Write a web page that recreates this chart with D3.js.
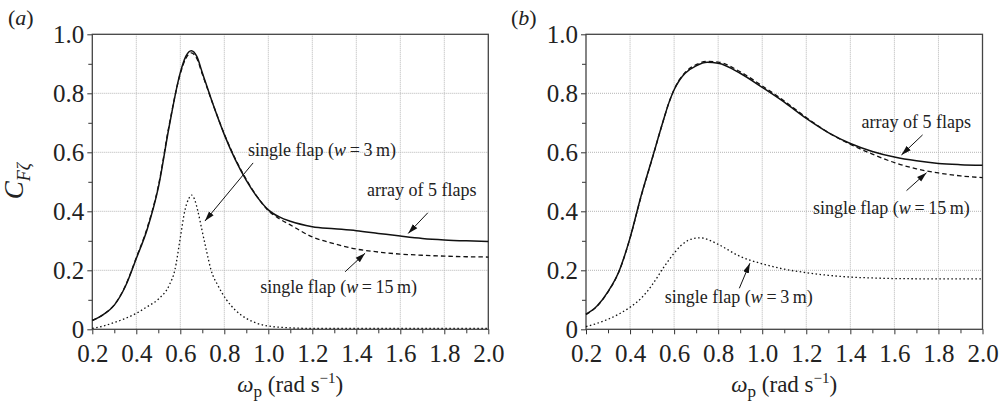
<!DOCTYPE html>
<html>
<head>
<meta charset="utf-8">
<script src="https://cdn.jsdelivr.net/npm/d3@7"></script>
<style>
  body { margin: 0; background: #fff; }
  text { font-family: "Liberation Serif", "Times New Roman", serif; fill: #222; }
</style>
</head>
<body>
<div id="chart"></div>
<script>
// ---- data ----
// panel (a)
const omegaA = [0.2, 0.25, 0.3, 0.35, 0.4, 0.45, 0.5, 0.55, 0.6, 0.625, 0.65, 0.675, 0.7, 0.75, 0.8, 0.85, 0.9, 0.95, 1.0, 1.05, 1.1, 1.2, 1.3, 1.4, 1.5, 1.6, 1.7, 1.8, 1.9, 2.0];
const arrayA = [0.03, 0.05, 0.082, 0.145, 0.24, 0.34, 0.48, 0.69, 0.87, 0.925, 0.944, 0.925, 0.87, 0.76, 0.66, 0.575, 0.505, 0.448, 0.405, 0.381, 0.366, 0.348, 0.341, 0.334, 0.325, 0.316, 0.308, 0.303, 0.3, 0.298];
const wide15A = [0.03, 0.05, 0.083, 0.147, 0.243, 0.345, 0.485, 0.695, 0.866, 0.918, 0.937, 0.918, 0.865, 0.76, 0.662, 0.578, 0.508, 0.449, 0.402, 0.375, 0.354, 0.313, 0.29, 0.272, 0.262, 0.255, 0.251, 0.248, 0.246, 0.245];
const omegaA3 = [0.2, 0.25, 0.3, 0.35, 0.4, 0.45, 0.5, 0.55, 0.575, 0.6, 0.62, 0.64, 0.652, 0.665, 0.68, 0.7, 0.72, 0.74, 0.77, 0.81, 0.85, 0.9, 0.95, 1.0, 1.1, 1.2, 1.5, 2.0];
const narrow3A = [0.003, 0.011, 0.023, 0.037, 0.054, 0.077, 0.102, 0.15, 0.2, 0.31, 0.4, 0.445, 0.455, 0.44, 0.4, 0.331, 0.263, 0.2, 0.15, 0.1, 0.065, 0.037, 0.02, 0.011, 0.005, 0.003, 0.003, 0.003];

// panel (b)
const omegaB = [0.2, 0.25, 0.3, 0.35, 0.4, 0.45, 0.5, 0.55, 0.575, 0.6, 0.625, 0.65, 0.7, 0.75, 0.8, 0.9, 1.0, 1.1, 1.2, 1.3, 1.4, 1.5, 1.6, 1.7, 1.8, 1.9, 2.0];
const arrayB = [0.051, 0.079, 0.128, 0.197, 0.31, 0.452, 0.578, 0.705, 0.765, 0.812, 0.845, 0.868, 0.893, 0.905, 0.902, 0.868, 0.82, 0.77, 0.715, 0.667, 0.63, 0.603, 0.584, 0.571, 0.562, 0.558, 0.556];
const wide15B = [0.05, 0.078, 0.127, 0.196, 0.309, 0.45, 0.577, 0.705, 0.765, 0.813, 0.847, 0.871, 0.897, 0.908, 0.906, 0.873, 0.825, 0.774, 0.718, 0.667, 0.627, 0.594, 0.565, 0.544, 0.53, 0.52, 0.514];
const omegaB3 = [0.2, 0.25, 0.3, 0.35, 0.4, 0.45, 0.5, 0.55, 0.6, 0.63, 0.66, 0.7, 0.72, 0.76, 0.8, 0.9, 1.0, 1.1, 1.2, 1.3, 1.4, 1.5, 1.6, 1.8, 2.0];
const narrow3B = [0.009, 0.02, 0.034, 0.052, 0.075, 0.105, 0.15, 0.207, 0.258, 0.283, 0.3, 0.309, 0.31, 0.302, 0.288, 0.247, 0.222, 0.204, 0.192, 0.183, 0.177, 0.174, 0.172, 0.171, 0.171];

const xTicks = [0.2, 0.4, 0.6, 0.8, 1.0, 1.2, 1.4, 1.6, 1.8, 2.0];
const xMinor = d3.range(3, 20, 2).map(d => d / 10);
const yTicks = [0, 0.2, 0.4, 0.6, 0.8, 1.0];
const yMinor = [0.1, 0.3, 0.5, 0.7, 0.9];

const width = 1003, height = 405;
const svg = d3.select('#chart').append('svg')
  .attr('width', width)
  .attr('height', height);

// arrow head
svg.append('defs').append('marker')
  .attr('id', 'arrow')
  .attr('markerUnits', 'userSpaceOnUse')
  .attr('markerWidth', 10).attr('markerHeight', 8)
  .attr('refX', 10).attr('refY', 4)
  .attr('orient', 'auto')
  .append('path')
  .attr('d', 'M0,1 L10,4 L0,7 Z')
  .attr('fill', '#111');

const fmt = d => d === 0 ? '0' : d.toFixed(1);

function drawPanel(p) {
  const x = d3.scaleLinear().domain([0.2, 2.0]).range(p.xr);
  const y = d3.scaleLinear().domain([0, 1]).range([329.3, 34.3]);
  const g = svg.append('g');

  // grid
  g.append('g').selectAll('line.gx')
    .data(xTicks.slice(1, -1)).enter().append('line')
    .attr('x1', d => x(d)).attr('x2', d => x(d))
    .attr('y1', y(0)).attr('y2', y(1))
    .attr('stroke', '#b5b5b5').attr('stroke-dasharray', '1,1');
  g.append('g').selectAll('line.gy')
    .data(yTicks.slice(1, -1)).enter().append('line')
    .attr('x1', x(0.2)).attr('x2', x(2.0))
    .attr('y1', d => y(d)).attr('y2', d => y(d))
    .attr('stroke', '#b5b5b5').attr('stroke-dasharray', '1,1');

  // axes
  const axB = g.append('g').attr('transform', `translate(0,${y(0)})`)
    .call(d3.axisBottom(x).tickValues(xTicks).tickSize(5).tickFormat(fmt));
  g.append('g').attr('transform', `translate(0,${y(0)})`)
    .call(d3.axisBottom(x).tickValues(xMinor).tickSize(4).tickFormat(''));
  const axL = g.append('g').attr('transform', `translate(${x(0.2)},0)`)
    .call(d3.axisLeft(y).tickValues(yTicks).tickSize(5).tickFormat(fmt));
  g.append('g').attr('transform', `translate(${x(0.2)},0)`)
    .call(d3.axisLeft(y).tickValues(yMinor).tickSize(4).tickFormat(''));
  g.selectAll('.domain').remove();
  g.selectAll('.tick line').attr('stroke', '#333');
  axB.selectAll('text')
    .attr('y', 33).attr('dy', null)
    .attr('font-size', 25).attr('fill', '#222');
  axL.selectAll('text')
    .attr('x', -8).attr('dy', '0.34em')
    .attr('font-size', 25).attr('fill', '#222');

  // frame
  g.append('rect')
    .attr('x', x(0.2)).attr('y', y(1))
    .attr('width', x(2.0) - x(0.2)).attr('height', y(0) - y(1))
    .attr('fill', 'none').attr('stroke', '#444').attr('stroke-width', 1.3);

  // curves
  const line = d3.line().x(d => x(d[0])).y(d => y(d[1])).curve(d3.curveMonotoneX);
  p.series.forEach(s => {
    g.append('path')
      .datum(d3.zip(s.xs, s.ys))
      .attr('d', line)
      .attr('fill', 'none')
      .attr('stroke', '#111')
      .attr('stroke-width', s.w)
      .attr('stroke-dasharray', s.dash);
  });

  // annotations
  p.notes.forEach(n => {
    const t = g.append('text')
      .attr('x', x(n.tx)).attr('y', y(n.ty))
      .attr('font-size', 18);
    if (n.w) {
      t.append('tspan').text(n.label + ' (');
      t.append('tspan').attr('font-style', 'italic').text('w');
      t.append('tspan').text('\u2009=\u2009' + n.w + '\u2009m)');
    } else {
      t.text(n.label);
    }
    g.append('line')
      .attr('x1', x(n.a[0])).attr('y1', y(n.a[1]))
      .attr('x2', x(n.a[2])).attr('y2', y(n.a[3]))
      .attr('stroke', '#111').attr('stroke-width', 1)
      .attr('marker-end', 'url(#arrow)');
  });

  // x title
  const xt = g.append('text')
    .attr('x', (p.xr[0] + p.xr[1]) / 2).attr('y', 392)
    .attr('text-anchor', 'middle').attr('font-size', 23);
  xt.append('tspan').attr('font-style', 'italic').text('ω');
  xt.append('tspan').attr('font-size', 17).attr('dy', 5).text('p');
  xt.append('tspan').attr('dy', -5).text(' (rad s');
  xt.append('tspan').attr('font-size', 15).attr('dy', -9).text('−1');
  xt.append('tspan').attr('dy', 9).text(')');

  // panel letter
  const pl = svg.append('text').attr('x', p.lx).attr('y', 25).attr('font-size', 22);
  pl.append('tspan').text('(');
  pl.append('tspan').attr('font-style', 'italic').text(p.letter);
  pl.append('tspan').text(')');
}

drawPanel({
  xr: [92.3, 488.3], letter: 'a', lx: 8,
  series: [
    { xs: omegaA, ys: arrayA, w: 1.5, dash: null },
    { xs: omegaA, ys: wide15A, w: 1.3, dash: '4.5,3' },
    { xs: omegaA3, ys: narrow3A, w: 1.3, dash: '1.5,2.5' }
  ],
  notes: [
    { label: 'single flap', w: '3', tx: 0.908, ty: 0.587, a: [0.931, 0.564, 0.712, 0.367] },
    { label: 'array of 5 flaps', tx: 1.449, ty: 0.452, a: [1.725, 0.395, 1.636, 0.325] },
    { label: 'single flap', w: '15', tx: 0.963, ty: 0.123, a: [1.349, 0.195, 1.44, 0.258] }
  ]
});

drawPanel({
  xr: [586, 982.5], letter: 'b', lx: 511,
  series: [
    { xs: omegaB, ys: arrayB, w: 1.5, dash: null },
    { xs: omegaB, ys: wide15B, w: 1.3, dash: '4.5,3' },
    { xs: omegaB3, ys: narrow3B, w: 1.3, dash: '1.5,2.5' }
  ],
  notes: [
    { label: 'array of 5 flaps', tx: 1.451, ty: 0.682, a: [1.728, 0.659, 1.632, 0.591] },
    { label: 'single flap', w: '15', tx: 1.23, ty: 0.391, a: [1.655, 0.47, 1.746, 0.531] },
    { label: 'single flap', w: '3', tx: 0.558, ty: 0.089, a: [0.896, 0.139, 0.944, 0.224] }
  ]
});

// y title (panel a only)
const yt = svg.append('text')
  .attr('transform', 'translate(23,181) rotate(-90)')
  .attr('text-anchor', 'middle').attr('font-size', 27);
yt.append('tspan').attr('font-style', 'italic').text('C');
yt.append('tspan').attr('font-style', 'italic').attr('font-size', 18).attr('dy', 7).text('Fζ');
</script>
</body>
</html>
